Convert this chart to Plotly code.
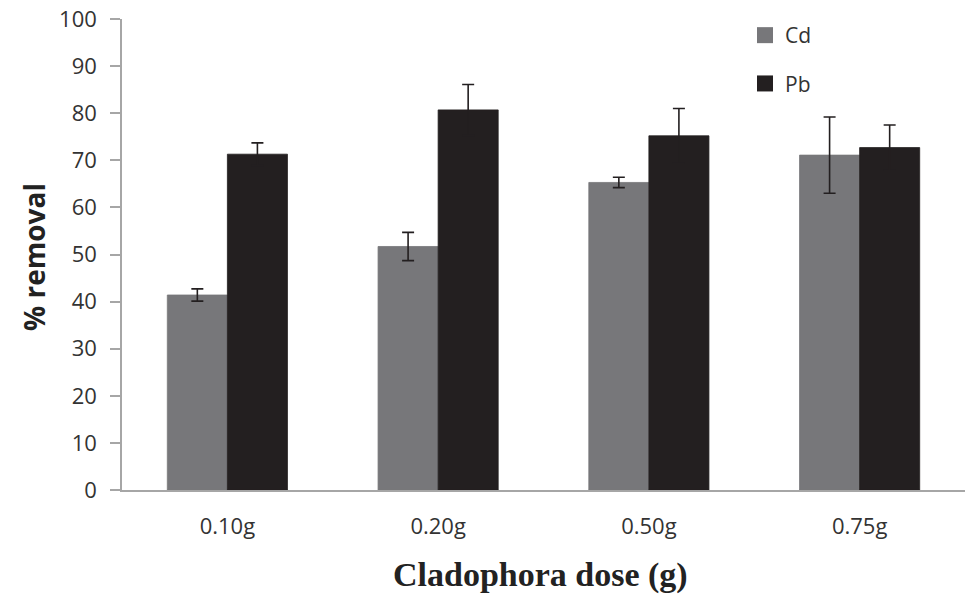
import plotly.graph_objects as go

categories = ["0.10g", "0.20g", "0.50g", "0.75g"]
cd_values = [41.4, 51.7, 65.3, 71.1]
cd_errors = [1.3, 3.0, 1.1, 8.1]
pb_values = [71.3, 80.7, 75.2, 72.7]
pb_errors = [2.4, 5.4, 5.8, 4.8]
y_ticks = [0, 10, 20, 30, 40, 50, 60, 70, 80, 90, 100]
series_names = ["Cd", "Pb"]
series_colors = ["#77777a", "#231f20"]

W, H = 973, 597
ml, mt = 122, 19
pw, ph = 843, 471
mr = W - ml - pw
mb = H - mt - ph

def px_x(page_x):
    return (page_x - ml) / pw

def px_y(page_y):
    return (mt + ph - page_y) / ph

fig = go.Figure()
for name, vals, errs, col in [("Cd", cd_values, cd_errors, series_colors[0]),
                              ("Pb", pb_values, pb_errors, series_colors[1])]:
    fig.add_trace(go.Bar(
        name=name, x=categories, y=vals, showlegend=False,
        marker=dict(color=col, line=dict(color=col, width=0.8)),
        error_y=dict(type="data", array=errs, visible=True,
                     color="#231f20", thickness=1.6, width=6),
    ))

# legend-only entries with larger square swatches
for name, col in zip(series_names, series_colors):
    fig.add_trace(go.Scatter(
        name=name, x=[None], y=[None], mode="markers", legendgroup=name,
        marker=dict(symbol="square", size=16, color=col),
    ))

fig.update_layout(
    width=W, height=H,
    margin=dict(l=ml, r=mr, t=mt, b=mb, autoexpand=False),
    paper_bgcolor="white", plot_bgcolor="white",
    barmode="group", bargap=0.43, bargroupgap=0,
    font=dict(family="Open Sans, sans-serif", color="#333333"),
    showlegend=True,
    legend=dict(
        x=px_x(745), y=px_y(15), xanchor="left", yanchor="top",
        font=dict(size=21, color="#333333"), bgcolor="rgba(0,0,0,0)",
        itemwidth=30, tracegroupgap=18, traceorder="grouped",
    ),
    xaxis=dict(
        showline=True, linecolor="#a6a6a6", linewidth=1.5,
        ticks="", showgrid=False, zeroline=False,
        tickfont=dict(size=22, color="#333333"),
        ticklabelstandoff=16,
    ),
    yaxis=dict(
        range=[0, 100], tickvals=y_ticks,
        showline=True, linecolor="#a6a6a6", linewidth=1.5,
        ticks="outside", ticklen=10, tickcolor="#a6a6a6", tickwidth=1.5,
        showgrid=False, zeroline=False,
        tickfont=dict(size=22, color="#333333"),
        ticklabelstandoff=9, ticklabeloverflow="allow",
    ),
    annotations=[
        dict(text="<b>% removal</b>", textangle=-90, showarrow=False,
             xref="paper", yref="paper",
             x=px_x(34), y=px_y(257),
             xanchor="center", yanchor="middle",
             font=dict(size=28, color="#222222", family="Open Sans, sans-serif")),
        dict(text="<b>Cladophora dose (g)</b>", showarrow=False,
             xref="paper", yref="paper",
             x=px_x(540), y=px_y(554),
             xanchor="center", yanchor="top",
             font=dict(size=34, color="#222222",
                       family="Liberation Serif, Times New Roman, serif")),
    ],
)

fig.write_html(
    "out.html",
    config={"displayModeBar": False},
    post_script="document.body.style.margin='0';document.body.style.overflow='hidden';",
)
